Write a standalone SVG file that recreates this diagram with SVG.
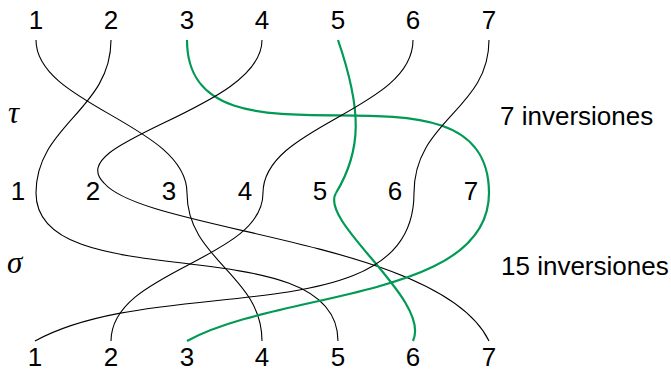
<svg xmlns="http://www.w3.org/2000/svg" width="671" height="372" viewBox="0 0 671 372">
<style>
text{font-family:"Liberation Sans",Arial,sans-serif;font-size:26px;fill:#000}
.n{text-anchor:middle}
.m{font-family:"Liberation Serif","DejaVu Serif",serif;font-style:italic;font-size:31px}
.s{fill:none;stroke:#000;stroke-width:1.1}
.g{fill:none;stroke:#009a55;stroke-width:2.2}
</style>
<rect width="671" height="372" fill="#fff"/>
<g id="connectors">
<path class="s" d="M36,40 C36,105 187,125 187,193"/>
<path class="s" d="M111,40 C111,110 36,125 36,193"/>
<path class="g" d="M187,40 C187,190 489,40 489,193"/>
<path class="s" d="M262,40 C262,110 60,140 104,183"/>
<path class="g" d="M338,40 C362,110 362,150 336,193"/>
<path class="s" d="M413,40 C413,110 263,125 263,193"/>
<path class="s" d="M489,40 C489,110 414,120 414,193"/>
<path class="s" d="M36,193 C36,300 338,225 338,341"/>
<path class="s" d="M104,183 C145,232 440,240 489,341"/>
<path class="s" d="M187,193 C187,260 262,275 262,341"/>
<path class="s" d="M263,193 C263,260 111,270 111,341"/>
<path class="g" d="M336,193 C318,222 432,300 413,341"/>
<path class="s" d="M414,193 C414,335 160,272 35,341"/>
<path class="g" d="M489,193 C489,300 280,290 187,341"/>
</g>
<g id="top-1"><text class="n" x="36" y="29">1</text></g>
<g id="top-2"><text class="n" x="111" y="29">2</text></g>
<g id="top-3"><text class="n" x="187" y="29">3</text></g>
<g id="top-4"><text class="n" x="262" y="29">4</text></g>
<g id="top-5"><text class="n" x="338" y="29">5</text></g>
<g id="top-6"><text class="n" x="413" y="29">6</text></g>
<g id="top-7"><text class="n" x="489" y="29">7</text></g>
<g id="mid-1"><text class="n" x="18" y="200">1</text></g>
<g id="mid-2"><text class="n" x="93" y="200">2</text></g>
<g id="mid-3"><text class="n" x="169" y="200">3</text></g>
<g id="mid-4"><text class="n" x="245" y="200">4</text></g>
<g id="mid-5"><text class="n" x="320" y="200">5</text></g>
<g id="mid-6"><text class="n" x="395" y="200">6</text></g>
<g id="mid-7"><text class="n" x="471" y="200">7</text></g>
<g id="bot-1"><text class="n" x="35" y="366">1</text></g>
<g id="bot-2"><text class="n" x="111" y="366">2</text></g>
<g id="bot-3"><text class="n" x="187" y="366">3</text></g>
<g id="bot-4"><text class="n" x="262" y="366">4</text></g>
<g id="bot-5"><text class="n" x="338" y="366">5</text></g>
<g id="bot-6"><text class="n" x="413" y="366">6</text></g>
<g id="bot-7"><text class="n" x="489" y="366">7</text></g>
<g id="tau"><text class="m" x="8" y="123">τ</text></g>
<g id="sigma"><text class="m" x="7" y="273">σ</text></g>
<g id="inv-tau"><text x="500" y="125">7 inversiones</text></g>
<g id="inv-sigma"><text x="501" y="275">15 inversiones</text></g>
</svg>
